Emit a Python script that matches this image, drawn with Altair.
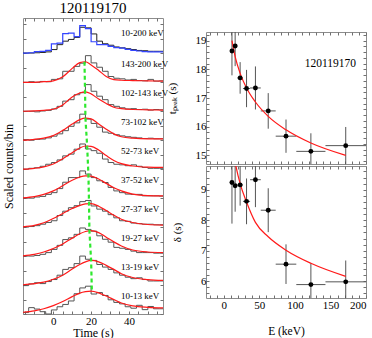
import altair as alt
import pandas as pd

FONT = "Liberation Serif"
FRAME = "#8c8c8c"
TICK = "#707070"
INWARD = alt.ExprRef(expr="-3")

# ---------------- left panel: light curves ----------------
BAND_LABELS = ["10-13 keV", "13-19 keV", "19-27 keV", "27-37 keV", "37-52 keV",
               "52-73 keV", "73-102 keV", "102-143 keV", "143-200 keV", "10-200 keV"]
BIN_START = [-16, -13, -10, -7, -4, -1, 2, 5, 8, 11, 14, 17, 20, 23, 26, 29, 32,
             35, 38, 41, 44, 47, 50, 53, 56]
BIN_END = 58

HIST = [
    [0.05, 0.22, 0.17, 0.08, 0.0, 0.14, 0.25, 0.33, 0.45, 0.7, 0.9, 0.96, 0.69, 0.74, 0.64, 0.49, 0.4, 0.35, 0.25, 0.2, 0.3, 0.15, 0.26, 0.18, 0.18],
    [-0.02, 0.04, 0.08, 0.05, 0.12, 0.19, 0.34, 0.54, 0.6, 0.74, 1.0, 0.89, 0.85, 0.71, 0.62, 0.54, 0.42, 0.34, 0.27, 0.22, 0.25, 0.19, 0.14, 0.14, 0.14],
    [0.0, 0.0, 0.02, 0.06, 0.12, 0.23, 0.37, 0.57, 0.63, 0.75, 0.97, 0.92, 0.86, 0.7, 0.58, 0.48, 0.3, 0.27, 0.23, 0.17, 0.12, 0.12, 0.12, 0.1, 0.1],
    [0.0, 0.02, 0.05, 0.1, 0.16, 0.22, 0.4, 0.55, 0.67, 0.74, 0.88, 0.92, 0.73, 0.62, 0.55, 0.43, 0.32, 0.22, 0.2, 0.14, 0.12, 0.1, 0.1, 0.08, 0.08],
    [0.0, 0.0, 0.04, 0.06, 0.13, 0.19, 0.33, 0.55, 0.71, 0.71, 0.94, 0.83, 0.71, 0.6, 0.54, 0.37, 0.25, 0.19, 0.14, 0.13, 0.13, 0.08, 0.08, 0.08, 0.07],
    [0.0, 0.03, 0.05, 0.1, 0.17, 0.23, 0.32, 0.46, 0.52, 0.69, 0.87, 0.7, 0.64, 0.55, 0.35, 0.23, 0.17, 0.15, 0.12, 0.15, 0.1, 0.06, 0.03, 0.03, 0.03],
    [0.02, 0.0, 0.03, 0.04, 0.08, 0.14, 0.22, 0.33, 0.48, 0.6, 0.9, 0.73, 0.58, 0.45, 0.28, 0.24, 0.19, 0.15, 0.12, 0.1, 0.08, 0.06, 0.07, 0.05, 0.05],
    [0.0, 0.0, -0.02, 0.01, 0.03, 0.08, 0.17, 0.35, 0.4, 0.57, 0.64, 0.92, 0.69, 0.52, 0.4, 0.23, 0.17, 0.12, 0.08, 0.09, 0.06, 0.07, 0.04, 0.06, 0.05],
    [0.0, 0.02, 0.0, 0.03, 0.02, 0.1, 0.12, 0.38, 0.38, 0.55, 0.66, 0.92, 0.67, 0.52, 0.38, 0.2, 0.14, 0.12, 0.08, 0.1, 0.06, 0.05, 0.1, 0.04, 0.05],
]
HIST_TOP_BLACK = [0.01, 0.01, 0.02, 0.03, 0.05, 0.13, 0.3, 0.42, 0.48, 0.55, 0.9, 0.88, 0.67, 0.42, 0.33, 0.28, 0.22, 0.19, 0.16, 0.13, 0.1, 0.09, 0.07, 0.07, 0.07]
HIST_TOP_BLUE = [0.01, 0.02, 0.06, 0.07, 0.1, 0.33, 0.35, 0.68, 0.7, 0.58, 0.96, 0.85, 0.4, 0.3, 0.3, 0.24, 0.2, 0.18, 0.14, 0.1, 0.08, 0.06, 0.05, 0.05, 0.05]

FIT_T = [-16, -10, -5, 0, 5, 10, 14, 17, 20, 24, 28, 32, 36, 42, 50, 58]
FIT = [
    [0.06, 0.11, 0.18, 0.29, 0.43, 0.6, 0.72, 0.77, 0.79, 0.73, 0.62, 0.5, 0.38, 0.28, 0.23, 0.21],
    [0.01, 0.05, 0.1, 0.2, 0.34, 0.55, 0.71, 0.8, 0.85, 0.8, 0.68, 0.54, 0.39, 0.26, 0.19, 0.16],
    [0.01, 0.06, 0.14, 0.26, 0.42, 0.62, 0.77, 0.85, 0.88, 0.81, 0.65, 0.49, 0.35, 0.21, 0.14, 0.12],
    [0.01, 0.06, 0.15, 0.3, 0.47, 0.64, 0.75, 0.8, 0.81, 0.72, 0.57, 0.41, 0.27, 0.16, 0.09, 0.07],
    [0.01, 0.05, 0.13, 0.25, 0.43, 0.62, 0.73, 0.77, 0.76, 0.66, 0.51, 0.36, 0.25, 0.14, 0.09, 0.08],
    [0.0, 0.03, 0.08, 0.18, 0.36, 0.57, 0.73, 0.8, 0.79, 0.66, 0.47, 0.3, 0.19, 0.11, 0.07, 0.06],
    [0.0, 0.03, 0.07, 0.16, 0.34, 0.56, 0.71, 0.76, 0.74, 0.56, 0.38, 0.22, 0.12, 0.07, 0.05, 0.05],
    [0.0, 0.01, 0.03, 0.07, 0.22, 0.49, 0.63, 0.67, 0.6, 0.42, 0.27, 0.14, 0.09, 0.06, 0.05, 0.04],
    [0.0, 0.0, 0.02, 0.05, 0.19, 0.48, 0.68, 0.71, 0.6, 0.41, 0.2, 0.09, 0.07, 0.06, 0.05, 0.04],
]
PEAK_T = [20.4, 20.0, 19.1, 18.9, 18.6, 17.9, 17.0, 16.8, 16.5]
PEAK_V = [0.79, 0.85, 0.88, 0.81, 0.77, 0.81, 0.76, 0.67, 0.71]
LABEL_T = 35.8
LABEL_V = [0.62, 0.62, 0.62, 0.62, 0.62, 0.62, 0.62, 0.62, 0.62, 0.7]

# ---------------- right panels: t_peak and width vs energy ----------------
E_LO = [10, 13, 19, 27, 37, 52, 73, 102, 143]
E_HI = [13, 19, 27, 37, 52, 73, 102, 143, 200]
E_MID = [11.5, 16, 23, 32, 44.5, 62.5, 87.5, 122.5, 171.5]
TPEAK = [18.64, 18.81, 17.70, 17.33, 17.35, 16.55, 15.67, 15.14, 15.34]
TPEAK_ERR = [0.85, 0.70, 0.55, 0.65, 0.75, 0.62, 0.58, 0.63, 0.65]
DELTA = [9.24, 9.13, 9.16, 8.62, 9.33, 8.33, 6.56, 5.89, 5.98]
DELTA_ERR = [1.35, 0.85, 0.68, 0.75, 0.90, 0.72, 0.65, 0.70, 0.70]
FIT_E = [11.5, 16, 23, 32, 44.5, 62.5, 87.5, 122.5, 171.5]
TPEAK_FIT = [19.0, 18.44, 17.86, 17.35, 16.86, 16.36, 15.89, 15.43, 15.0]
DELTA_FIT = [10.5, 9.9, 9.2, 8.6, 7.93, 7.46, 7.02, 6.59, 6.16]
GRB = "120119170"

# ---------------- tables ----------------
times = BIN_START + [BIN_END]
hist_rows = []
for k, vals in enumerate(HIST):
    for i, t in enumerate(times):
        hist_rows.append({"band": k, "t": t, "y": k + vals[min(i, len(vals) - 1)]})
hist_df = pd.DataFrame(hist_rows)
top_rows = []
for name, vals in [("black", HIST_TOP_BLACK), ("blue", HIST_TOP_BLUE)]:
    for i, t in enumerate(times):
        top_rows.append({"series": name, "t": t, "y": 9 + vals[min(i, len(vals) - 1)]})
top_df = pd.DataFrame(top_rows)
fit_df = pd.DataFrame([{"band": k, "t": t, "y": k + v}
                       for k, vals in enumerate(FIT) for t, v in zip(FIT_T, vals)])
peak_df = pd.DataFrame({"t": PEAK_T, "y": [k + v for k, v in enumerate(PEAK_V)]})
lab_df = pd.DataFrame({"t": [LABEL_T] * 10, "y": [k + v for k, v in enumerate(LABEL_V)],
                       "label": BAND_LABELS})

pts = pd.DataFrame({"E": E_MID, "Elo": E_LO, "Ehi": E_HI,
                    "tp": TPEAK, "tlo": [a - b for a, b in zip(TPEAK, TPEAK_ERR)],
                    "thi": [a + b for a, b in zip(TPEAK, TPEAK_ERR)],
                    "d": DELTA, "dlo": [a - b for a, b in zip(DELTA, DELTA_ERR)],
                    "dhi": [a + b for a, b in zip(DELTA, DELTA_ERR)]})
fitE = pd.DataFrame({"E": FIT_E, "tp": TPEAK_FIT, "d": DELTA_FIT})
grb_df = pd.DataFrame({"E": [150], "tp": [18.2], "label": [GRB]})

# ---------------- left chart ----------------
xs_L = alt.Scale(domain=[-16, 58], nice=False, zero=False)
ys_L = alt.Scale(domain=[0, 10.22], nice=False, zero=False)
xvals_L = list(range(-15, 56, 5))
yvals_L = [i * 0.5 for i in range(21)]
xax_L = alt.Axis(values=xvals_L, labelExpr="datum.value % 20 == 0 ? format(datum.value, 'd') : ''",
                 tickSize=INWARD, labelPadding=4, title="Time (s)", titlePadding=1,
                 labelFont=FONT, titleFont=FONT, labelFontSize=11, titleFontSize=12)
yax_L = alt.Axis(values=yvals_L, labels=False, tickSize=INWARD,
                 title="Scaled counts/bin", titlePadding=7, titleFont=FONT, titleFontSize=12)
XL = alt.X("t:Q", scale=xs_L, axis=xax_L)
YL = alt.Y("y:Q", scale=ys_L, axis=yax_L)

hist_l = alt.Chart(hist_df).mark_line(interpolate="step-after", color="#555555", strokeWidth=1).encode(
    x=XL, y=YL, detail="band:N")
top_black = alt.Chart(top_df).transform_filter("datum.series == 'black'").mark_line(
    interpolate="step-after", color="#222222", strokeWidth=1).encode(x=XL, y=YL)
top_blue = alt.Chart(top_df).transform_filter("datum.series == 'blue'").mark_line(
    interpolate="step-after", color="#3344ff", strokeWidth=1.2).encode(x=XL, y=YL)
fit_l = alt.Chart(fit_df).mark_line(interpolate="monotone", color="#ff1a1a", strokeWidth=1.2).encode(
    x=XL, y=YL, detail="band:N")
peak_l = alt.Chart(peak_df).mark_line(color="#2ee82e", strokeWidth=2.2, strokeDash=[4, 3]).encode(x=XL, y=YL)
lab_l = alt.Chart(lab_df).mark_text(align="left", baseline="middle", font=FONT, fontSize=9,
                                     color="black").encode(x=XL, y=YL, text="label:N")
mirror_l = alt.Chart(lab_df).mark_point(opacity=0).encode(
    x=alt.X("t:Q", scale=xs_L, axis=alt.Axis(orient="top", values=xvals_L,
                                                 labels=False, title=None, tickSize=INWARD)),
    y=alt.Y("y:Q", scale=ys_L, axis=alt.Axis(orient="right", values=yvals_L,
                                                 labels=False, title=None, tickSize=INWARD)))
left = alt.layer(alt.layer(hist_l, top_black, top_blue, fit_l, peak_l, lab_l), mirror_l).resolve_axis(
    x="independent", y="independent").properties(
    width=140, height=296,
    title=alt.TitleParams(GRB, fontSize=15, font=FONT, fontWeight="normal", offset=2))

# ---------------- right charts ----------------
xs_R = alt.Scale(domain=[-25, 200], nice=False, zero=False)
xvals = list(range(-20, 201, 10))


def right_panel(field, lo, hi, domain, title, bottom, extra=None):
    ys = alt.Scale(domain=domain, nice=False, zero=False)
    lo_i = int(domain[0] * 5) + 1
    hi_i = int(domain[1] * 5)
    yvals = [i / 5 for i in range(lo_i, hi_i + 1)]
    if bottom:
        xax = alt.Axis(values=xvals, labelExpr="datum.value % 50 == 0 ? format(datum.value, 'd') : ''",
                       tickSize=INWARD, labelPadding=4, title="E (keV)", titlePadding=15,
                       labelFont=FONT, titleFont=FONT, labelFontSize=11, titleFontSize=11.5)
    else:
        xax = alt.Axis(values=xvals, labels=False, title=None, tickSize=INWARD)
    yax = alt.Axis(values=yvals,
                   labelExpr="abs(datum.value - round(datum.value)) < 0.01 ? format(datum.value, 'd') : ''",
                   tickSize=INWARD, labelPadding=3, title=title, titlePadding=18,
                   labelFont=FONT, titleFont=FONT, labelFontSize=11, titleFontSize=11)
    X = alt.X("E:Q", scale=xs_R, axis=xax)
    Y = alt.Y(f"{field}:Q", scale=ys, axis=yax)
    xerr = alt.Chart(pts).mark_rule(color="#555555", strokeWidth=1, clip=True).encode(
        x=alt.X("Elo:Q", scale=xs_R, axis=xax), x2="Ehi:Q", y=Y)
    yerr = alt.Chart(pts).mark_rule(color="#555555", strokeWidth=1, clip=True).encode(
        x=X, y=alt.Y(f"{lo}:Q", scale=ys, axis=yax), y2=f"{hi}:Q")
    fit = alt.Chart(fitE).mark_line(color="#ff1a1a", strokeWidth=1.2, clip=True,
                                    interpolate="monotone").encode(x=X, y=Y)
    dots = alt.Chart(pts).mark_point(filled=True, color="black", size=24, opacity=1).encode(x=X, y=Y)
    layers = [xerr, yerr, fit, dots]
    if extra is not None:
        layers.append(alt.Chart(extra).mark_text(font=FONT, fontSize=11.5, color="black").encode(
            x=X, y=Y, text="label:N"))
    mirror = alt.Chart(pts).mark_point(opacity=0).encode(
        x=alt.X("E:Q", scale=xs_R, axis=alt.Axis(orient="top", values=xvals, labels=False,
                                                    title=None, tickSize=INWARD)),
        y=alt.Y(f"{field}:Q", scale=ys, axis=alt.Axis(orient="right", values=yvals, labels=False,
                                                         title=None, tickSize=INWARD)))
    return alt.layer(alt.layer(*layers), mirror).resolve_axis(x="independent", y="independent")


spacer = alt.Chart(grb_df).mark_text(text="", opacity=0).encode(
    x=alt.value(0), y=alt.value(0)).properties(
    width=160, height=12, view=alt.ViewBackground(stroke="transparent"))
top_right = right_panel("tp", "tlo", "thi", [14.7, 19.3], "tₚₑₐₖ (s)", False, grb_df).properties(
    width=160, height=132)
bot_right = right_panel("d", "dlo", "dhi", [5.45, 9.78], "δ (s)", True).properties(
    width=160, height=132)
right = alt.vconcat(spacer, top_right, bot_right, spacing=0)

chart = alt.hconcat(left, right, spacing=-4).properties(
    padding={"left": 2, "top": 0, "right": 0, "bottom": 0}
).configure_view(stroke=FRAME, strokeWidth=1).configure_axis(
    labelFont=FONT, titleFont=FONT, titleFontWeight="normal", labelColor="black",
    titleColor="black", tickColor=TICK, domain=False, grid=False
).configure_title(font=FONT, fontWeight="normal", color="black")

chart.save("out.html", embed_options={"renderer": "svg", "actions": False})
